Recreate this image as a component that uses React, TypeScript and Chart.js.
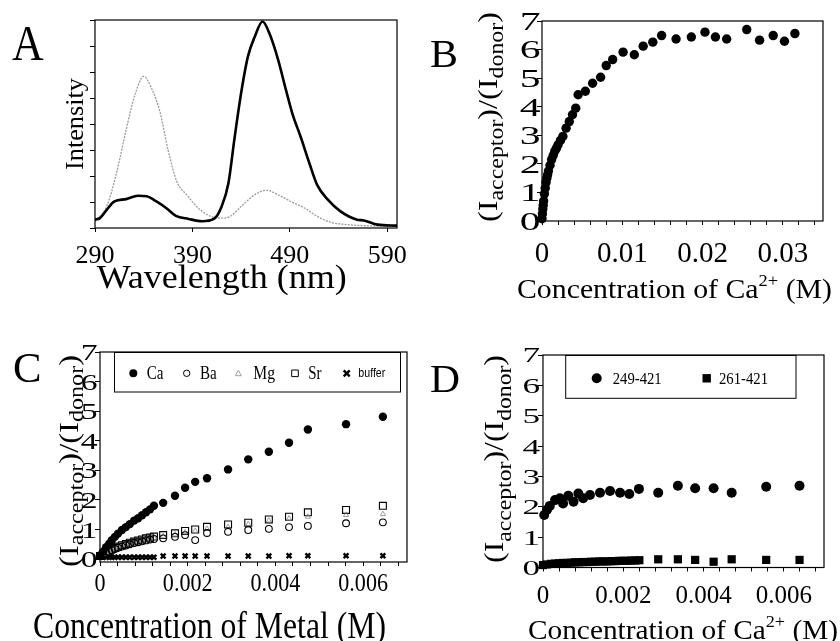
import React, { useEffect, useRef } from 'react';
import { Chart, registerables } from 'chart.js';

Chart.register(...registerables);

const W = 840;
const H = 641;
const SERIF = '"Liberation Serif", "Times New Roman", Times, serif';
const SANS = '"Liberation Sans", Arial, sans-serif';

// ---------------- DATA ----------------
// Panel A: emission spectra
const A_WL_BLACK = [290, 295, 302, 310, 322, 334, 343, 353, 363, 373, 386, 400, 412, 420, 427, 433, 440, 447, 454, 462, 469, 478, 486, 493, 501, 510, 518, 529, 542, 559, 566, 580, 600];
const A_INT_BLACK = [0.32, 0.38, 0.7, 1.02, 1.11, 1.24, 1.22, 1.02, 0.77, 0.47, 0.35, 0.26, 0.35, 0.83, 1.73, 3.39, 5.19, 6.6, 7.36, 7.94, 7.49, 6.47, 5.31, 4.35, 3.52, 2.5, 1.66, 1.09, 0.64, 0.32, 0.29, 0.13, 0.09];
const A_WL_GRAY = [290, 302, 312, 322, 331, 340, 348, 357, 365, 374, 384, 398, 411, 421, 429, 440, 454, 466, 478, 491, 505, 518, 532, 549, 566, 600];
const A_INT_GRAY = [0.26, 0.83, 2.1, 3.78, 5.12, 5.83, 5.38, 4.42, 3.0, 1.79, 1.28, 0.7, 0.42, 0.38, 0.45, 0.83, 1.28, 1.45, 1.28, 1.02, 0.77, 0.45, 0.22, 0.13, 0.09, 0.06];
const A_X_LABELS = [290, 390, 490, 590];

// Panel B: Ca2+ titration
const B_CONC = [0, 0.00005, 0.0001, 0.00015, 0.0002, 0.0003, 0.0004, 0.0005, 0.0006, 0.0007, 0.0008, 0.001, 0.0012, 0.0014, 0.0016, 0.0018, 0.002, 0.0023, 0.0026, 0.003, 0.0034, 0.0038, 0.0042, 0.0045, 0.0054, 0.0063, 0.0073, 0.008, 0.0088, 0.0101, 0.0115, 0.0126, 0.0138, 0.0149, 0.0167, 0.0186, 0.0203, 0.0216, 0.023, 0.0255, 0.0271, 0.0288, 0.0302, 0.0315];
const B_RATIO = [0.08, 0.25, 0.42, 0.55, 0.7, 0.95, 1.15, 1.35, 1.5, 1.62, 1.75, 1.95, 2.15, 2.3, 2.45, 2.55, 2.67, 2.82, 2.96, 3.25, 3.48, 3.72, 3.95, 4.42, 4.54, 4.82, 5.03, 5.44, 5.65, 5.91, 5.82, 6.12, 6.26, 6.49, 6.37, 6.44, 6.61, 6.44, 6.37, 6.7, 6.33, 6.49, 6.29, 6.56];
const B_X_LABELS = [0, 0.01, 0.02, 0.03];
const Y_LABELS = [0, 1, 2, 3, 4, 5, 6, 7];

// Panel C: metals
const C_SERIES = ['Ca', 'Ba', 'Mg', 'Sr', 'buffer'];
const C_CONC = [0, 0.00007, 0.00014, 0.00021, 0.00027, 0.00034, 0.00041, 0.0005, 0.00059, 0.00068, 0.00078, 0.00087, 0.00096, 0.00105, 0.00114, 0.00123, 0.00144, 0.00171, 0.00194, 0.00217, 0.00244, 0.00292, 0.00338, 0.00385, 0.00431, 0.00474, 0.00561, 0.00645];
const C_CA = [0.12, 0.25, 0.4, 0.52, 0.64, 0.75, 0.86, 0.98, 1.08, 1.18, 1.3, 1.38, 1.48, 1.58, 1.68, 1.8, 1.9, 2.14, 2.41, 2.61, 2.73, 3.03, 3.37, 3.63, 3.93, 4.38, 4.56, 4.81];
const C_BA = [0.1, 0.15, 0.2, 0.25, 0.3, 0.34, 0.38, 0.42, 0.46, 0.5, 0.54, 0.57, 0.6, 0.63, 0.66, 0.68, 0.7, 0.75, 0.81, 0.64, 0.88, 0.92, 0.98, 1.02, 1.08, 1.12, 1.21, 1.24];
const C_MG = [0.1, 0.15, 0.21, 0.26, 0.31, 0.36, 0.4, 0.44, 0.48, 0.52, 0.56, 0.6, 0.63, 0.66, 0.69, 0.72, 0.77, 0.83, 0.9, 0.95, 1.02, 1.08, 1.18, 1.3, 1.37, 1.43, 1.49, 1.52];
const C_SR = [0.1, 0.16, 0.22, 0.28, 0.33, 0.38, 0.42, 0.47, 0.51, 0.55, 0.59, 0.63, 0.66, 0.7, 0.73, 0.76, 0.81, 0.87, 0.95, 1.0, 1.09, 1.17, 1.23, 1.34, 1.43, 1.58, 1.66, 1.8];
const C_BUFFER = [0.1, 0.06, 0.06, 0.06, 0.06, 0.06, 0.06, 0.06, 0.06, 0.06, 0.06, 0.06, 0.06, 0.06, 0.06, 0.06, 0.1, 0.1, 0.1, 0.1, 0.1, 0.1, 0.1, 0.1, 0.11, 0.11, 0.11, 0.11];
const C_X_LABELS = [0, 0.002, 0.004, 0.006];

// Panel D: constructs
const D_SERIES = ['249-421', '261-421'];
const D_CONC_249 = [0.00003, 0.0001, 0.00017, 0.0003, 0.00042, 0.0005, 0.00063, 0.00076, 0.00088, 0.001, 0.00117, 0.00142, 0.00167, 0.00192, 0.00215, 0.00239, 0.00287, 0.00336, 0.00379, 0.00425, 0.0047, 0.00556, 0.00639];
const D_RATIO_249 = [1.73, 1.9, 2.03, 2.22, 2.28, 2.11, 2.36, 2.17, 2.44, 2.28, 2.39, 2.46, 2.52, 2.46, 2.42, 2.59, 2.46, 2.69, 2.61, 2.61, 2.46, 2.66, 2.69];
const D_CONC_261 = [0, 0.0001, 0.0002, 0.0003, 0.0004, 0.0005, 0.0006, 0.0007, 0.0008, 0.0009, 0.001, 0.0011, 0.0012, 0.0013, 0.0014, 0.0015, 0.0016, 0.0017, 0.0018, 0.0019, 0.002, 0.0021, 0.0022, 0.0023, 0.0024, 0.00287, 0.00336, 0.00379, 0.00425, 0.0047, 0.00556, 0.00639];
const D_RATIO_261 = [0.08, 0.1, 0.12, 0.13, 0.14, 0.15, 0.15, 0.16, 0.17, 0.17, 0.18, 0.18, 0.19, 0.19, 0.2, 0.2, 0.2, 0.21, 0.21, 0.22, 0.22, 0.22, 0.23, 0.23, 0.24, 0.27, 0.27, 0.25, 0.19, 0.27, 0.25, 0.25];
const D_X_LABELS = [0, 0.002, 0.004, 0.006];

// ---------------- HELPERS ----------------
type Part = { t: string; s: number; dy?: number };
type TextItem = {
  parts: Part[];
  x: number;
  y: number;
  align?: 'left' | 'center' | 'right';
  rot?: boolean;
  width?: number;
  sx?: number;
  font?: string;
};

function drawText(ctx: CanvasRenderingContext2D, it: TextItem) {
  ctx.save();
  ctx.translate(it.x, it.y);
  if (it.rot) ctx.rotate(-Math.PI / 2);
  const fam = it.font || SERIF;
  let total = 0;
  const ws = it.parts.map((p) => {
    ctx.font = `${p.s}px ${fam}`;
    const w = ctx.measureText(p.t).width;
    total += w;
    return w;
  });
  const sx = it.width ? it.width / total : it.sx ?? 1;
  ctx.scale(sx, 1);
  let cur = it.align === 'center' ? -total / 2 : it.align === 'right' ? -total : 0;
  ctx.fillStyle = '#000';
  ctx.textAlign = 'left';
  ctx.textBaseline = 'alphabetic';
  it.parts.forEach((p, i) => {
    ctx.font = `${p.s}px ${fam}`;
    ctx.fillText(p.t, cur, p.dy || 0);
    cur += ws[i];
  });
  ctx.restore();
}

function pts(xs: number[], ys: number[]) {
  return xs.map((x, i) => ({ x, y: ys[i] }));
}

function steps(min: number, max: number, step: number) {
  const out: number[] = [];
  for (let i = 0; min + i * step <= max + 1e-12; i++) out.push(+(min + i * step).toFixed(10));
  return out;
}

function marker(ctx: CanvasRenderingContext2D, kind: string, x: number, y: number, r: number) {
  ctx.save();
  ctx.strokeStyle = '#000';
  ctx.fillStyle = '#000';
  ctx.lineWidth = 1;
  ctx.beginPath();
  if (kind === 'dot') {
    ctx.arc(x, y, r, 0, Math.PI * 2);
    ctx.fill();
  } else if (kind === 'ring') {
    ctx.arc(x, y, r, 0, Math.PI * 2);
    ctx.stroke();
  } else if (kind === 'tri') {
    ctx.strokeStyle = '#888';
    ctx.lineWidth = 0.8;
    ctx.moveTo(x, y - r);
    ctx.lineTo(x + r, y + r * 0.8);
    ctx.lineTo(x - r, y + r * 0.8);
    ctx.closePath();
    ctx.stroke();
  } else if (kind === 'sq') {
    ctx.rect(x - r, y - r, 2 * r, 2 * r);
    ctx.stroke();
  } else if (kind === 'fsq') {
    ctx.rect(x - r, y - r, 2 * r, 2 * r);
    ctx.fill();
  } else if (kind === 'x') {
    ctx.lineWidth = 2.4;
    ctx.moveTo(x - r, y - r);
    ctx.lineTo(x + r, y + r);
    ctx.moveTo(x + r, y - r);
    ctx.lineTo(x - r, y + r);
    ctx.stroke();
  }
  ctx.restore();
}

type LabelSpec = { vals: number[]; size: number; sx: number; pos: number };
interface PanelSpec {
  area: { l: number; t: number; r: number; b: number };
  xRange: [number, number];
  yRange: [number, number];
  xTicks: number[];
  yTicks: number[];
  xLabels: LabelSpec;
  yLabels?: LabelSpec;
  texts: TextItem[];
  legend?: (ctx: CanvasRenderingContext2D) => void;
  datasets: any[];
}

function yTitle(x: number, y: number, width: number, dy: number): TextItem {
  return {
    parts: [
      { t: '(I', s: 27 },
      { t: 'acceptor', s: 20, dy },
      { t: ')/(I', s: 27 },
      { t: 'donor', s: 20, dy },
      { t: ')', s: 27 },
    ],
    x,
    y,
    rot: true,
    align: 'center',
    width,
  };
}

function caTitle(x: number, y: number, width: number, size: number): TextItem {
  return {
    parts: [
      { t: 'Concentration of Ca', s: size },
      { t: '2+', s: size * 0.62, dy: -size * 0.42 },
      { t: ' (M)', s: size },
    ],
    x,
    y,
    align: 'center',
    width,
  };
}

function makeConfig(p: PanelSpec): any {
  const axis = (which: 'x' | 'y', range: [number, number], ticks: number[]) => ({
    type: 'linear',
    min: range[0],
    max: range[1],
    ticks: { display: false },
    grid: {
      drawOnChartArea: false,
      drawTicks: true,
      tickLength: which === 'x' ? 4 : 5,
      color: '#000',
      lineWidth: 1,
    },
    border: { display: false },
    afterBuildTicks: (s: any) => {
      s.ticks = ticks.map((v) => ({ value: v }));
    },
    afterFit: (s: any) => {
      if (which === 'x') s.height = 10;
      else s.width = 10;
    },
  });

  const decor = {
    id: 'decor',
    afterDraw(chart: any) {
      const ctx: CanvasRenderingContext2D = chart.ctx;
      const a = chart.chartArea;
      ctx.save();
      ctx.strokeStyle = '#000';
      ctx.lineWidth = 1.2;
      ctx.strokeRect(a.left, a.top, a.right - a.left, a.bottom - a.top);
      const xs = chart.scales.x;
      const ys = chart.scales.y;
      p.xLabels.vals.forEach((v) => {
        drawText(ctx, {
          parts: [{ t: String(v), s: p.xLabels.size }],
          x: xs.getPixelForValue(v),
          y: p.xLabels.pos,
          align: 'center',
          sx: p.xLabels.sx,
        });
      });
      if (p.yLabels) {
        const yl = p.yLabels;
        yl.vals.forEach((v) => {
          drawText(ctx, {
            parts: [{ t: String(v), s: yl.size }],
            x: yl.pos,
            y: ys.getPixelForValue(v) + yl.size * 0.34,
            align: 'right',
            sx: yl.sx,
          });
        });
      }
      p.texts.forEach((t) => drawText(ctx, t));
      if (p.legend) p.legend(ctx);
      ctx.restore();
    },
  };

  return {
    type: 'scatter',
    data: { datasets: p.datasets },
    options: {
      animation: false,
      responsive: false,
      events: [],
      layout: {
        padding: {
          left: p.area.l - 10,
          top: p.area.t,
          right: W - p.area.r,
          bottom: H - p.area.b - 10,
        },
      },
      plugins: { legend: { display: false }, tooltip: { enabled: false } },
      scales: {
        x: axis('x', p.xRange, p.xTicks),
        y: axis('y', p.yRange, p.yTicks),
      },
    },
    plugins: [decor],
  };
}

// ---------------- PANELS ----------------
const panelA: PanelSpec = {
  area: { l: 95, t: 20, r: 397, b: 228 },
  xRange: [290, 600],
  yRange: [0, 8],
  xTicks: A_X_LABELS,
  yTicks: steps(0, 8, 1),
  xLabels: { vals: A_X_LABELS, size: 26, sx: 1, pos: 263 },
  texts: [
    { parts: [{ t: 'A', s: 50 }], x: 12, y: 60, width: 31.6 },
    { parts: [{ t: 'Intensity', s: 26 }], x: 83, y: 124, rot: true, align: 'center', width: 92 },
    { parts: [{ t: 'Wavelength (nm)', s: 33 }], x: 221.7, y: 288, align: 'center', width: 250 },
  ],
  datasets: [
    {
      data: pts(A_WL_BLACK, A_INT_BLACK),
      showLine: true,
      borderColor: '#000',
      borderWidth: 2.6,
      pointRadius: 0,
      cubicInterpolationMode: 'monotone',
      fill: false,
    },
    {
      data: pts(A_WL_GRAY, A_INT_GRAY),
      showLine: true,
      borderColor: '#9a9a9a',
      borderWidth: 1.3,
      borderDash: [2, 1.2],
      pointRadius: 0,
      cubicInterpolationMode: 'monotone',
      fill: false,
    },
  ],
};

const panelB: PanelSpec = {
  area: { l: 542, t: 21, r: 823, b: 221 },
  xRange: [0, 0.035],
  yRange: [0, 7],
  xTicks: steps(0, 0.034, 0.002),
  yTicks: Y_LABELS,
  xLabels: { vals: B_X_LABELS, size: 29, sx: 1, pos: 262 },
  yLabels: { vals: Y_LABELS, size: 26, sx: 1.6, pos: 540.5 },
  texts: [
    { parts: [{ t: 'B', s: 40 }], x: 430, y: 67, width: 28 },
    yTitle(497, 117, 210, 6),
    caTitle(674.5, 298, 315, 28),
  ],
  datasets: [
    {
      data: pts(B_CONC, B_RATIO),
      pointStyle: 'circle',
      pointRadius: 4.7,
      backgroundColor: '#000',
      borderColor: '#000',
      borderWidth: 0,
      clip: false,
    },
  ],
};

const panelC: PanelSpec = {
  area: { l: 100, t: 352, r: 407, b: 562 },
  xRange: [0, 0.007],
  yRange: [-0.1, 7],
  xTicks: steps(0, 0.0068, 0.0004),
  yTicks: Y_LABELS,
  xLabels: { vals: C_X_LABELS, size: 26, sx: 0.85, pos: 591 },
  yLabels: { vals: Y_LABELS, size: 24, sx: 1.4, pos: 97.5 },
  texts: [
    { parts: [{ t: 'C', s: 43 }], x: 13, y: 382, width: 28.5 },
    yTitle(78, 461, 212, 5),
    { parts: [{ t: 'Concentration of Metal (M)', s: 37 }], x: 33, y: 638, width: 353 },
  ],
  legend: (ctx) => {
    ctx.save();
    ctx.strokeStyle = '#000';
    ctx.lineWidth = 1;
    ctx.strokeRect(114.5, 352.5, 286, 39.5);
    ctx.restore();
    const kinds = ['dot', 'ring', 'tri', 'sq', 'x'];
    const mx = [133.3, 186.7, 238.3, 295, 346.7];
    const mr = [4, 3.2, 3, 3.3, 3];
    const tx = [146.7, 200, 253.3, 308.3, 358.3];
    const tw = [16.7, 16.7, 21.7, 13.3, 27];
    C_SERIES.forEach((name, i) => {
      marker(ctx, kinds[i], mx[i], 373.3, mr[i]);
      const sans = name === 'buffer';
      drawText(ctx, {
        parts: [{ t: name, s: sans ? 12 : 18 }],
        x: tx[i],
        y: sans ? 377 : 378.5,
        width: tw[i],
        font: sans ? SANS : SERIF,
      });
    });
  },
  datasets: [
    {
      data: pts(C_CONC, C_CA),
      pointStyle: 'circle',
      pointRadius: 4.2,
      backgroundColor: '#000',
      borderColor: '#000',
      borderWidth: 0,
      clip: false,
    },
    {
      data: pts(C_CONC, C_BA),
      pointStyle: 'circle',
      pointRadius: 3.4,
      backgroundColor: 'rgba(0,0,0,0)',
      borderColor: '#000',
      borderWidth: 1.1,
      clip: false,
    },
    {
      data: pts(C_CONC, C_MG),
      pointStyle: 'triangle',
      pointRadius: 3,
      backgroundColor: 'rgba(0,0,0,0)',
      borderColor: '#888',
      borderWidth: 0.8,
      clip: false,
    },
    {
      data: pts(C_CONC, C_SR),
      pointStyle: 'rect',
      pointRadius: 4.9,
      backgroundColor: 'rgba(0,0,0,0)',
      borderColor: '#000',
      borderWidth: 1.1,
      clip: false,
    },
    {
      data: pts(C_CONC, C_BUFFER),
      pointStyle: 'crossRot',
      pointRadius: 3.4,
      backgroundColor: '#000',
      borderColor: '#000',
      borderWidth: 2.4,
      clip: false,
    },
  ],
};

const panelD: PanelSpec = {
  area: { l: 543, t: 355, r: 824, b: 567.5 },
  xRange: [0, 0.007],
  yRange: [0, 7],
  xTicks: steps(0, 0.0068, 0.0004),
  yTicks: Y_LABELS,
  xLabels: { vals: D_X_LABELS, size: 25, sx: 1, pos: 603 },
  yLabels: { vals: Y_LABELS, size: 22, sx: 1.6, pos: 540 },
  texts: [
    { parts: [{ t: 'D', s: 40 }], x: 430, y: 392, width: 30 },
    yTitle(503, 459, 208, 8),
    caTitle(683, 639, 310, 28),
  ],
  legend: (ctx) => {
    ctx.save();
    ctx.strokeStyle = '#000';
    ctx.lineWidth = 1;
    ctx.strokeRect(565.7, 355.5, 230.3, 42.8);
    ctx.restore();
    const kinds = ['dot', 'fsq'];
    const mx = [596.7, 706.7];
    const mr = [5, 4.2];
    const tx = [612.7, 719];
    D_SERIES.forEach((name, i) => {
      marker(ctx, kinds[i], mx[i], 378.3, mr[i]);
      drawText(ctx, { parts: [{ t: name, s: 16 }], x: tx[i], y: 383.5, width: 49 });
    });
  },
  datasets: [
    {
      data: pts(D_CONC_249, D_RATIO_249),
      pointStyle: 'circle',
      pointRadius: 5,
      backgroundColor: '#000',
      borderColor: '#000',
      borderWidth: 0,
      clip: false,
    },
    {
      data: pts(D_CONC_261, D_RATIO_261),
      pointStyle: 'rect',
      pointRadius: 5.8,
      backgroundColor: '#000',
      borderColor: '#000',
      borderWidth: 0,
      clip: false,
    },
  ],
};

// ---------------- COMPONENTS ----------------
function PanelCanvas({ spec }: { spec: PanelSpec }) {
  const ref = useRef<HTMLCanvasElement>(null);
  useEffect(() => {
    if (!ref.current) return;
    const chart = new Chart(ref.current, makeConfig(spec));
    return () => chart.destroy();
  }, [spec]);
  return (
    <canvas
      ref={ref}
      width={W}
      height={H}
      style={{ position: 'absolute', left: 0, top: 0, width: W, height: H }}
    />
  );
}

export default function App() {
  return (
    <div style={{ position: 'absolute', left: 0, top: 0, width: W, height: H, background: '#fff' }}>
      <PanelCanvas spec={panelA} />
      <PanelCanvas spec={panelB} />
      <PanelCanvas spec={panelC} />
      <PanelCanvas spec={panelD} />
    </div>
  );
}
